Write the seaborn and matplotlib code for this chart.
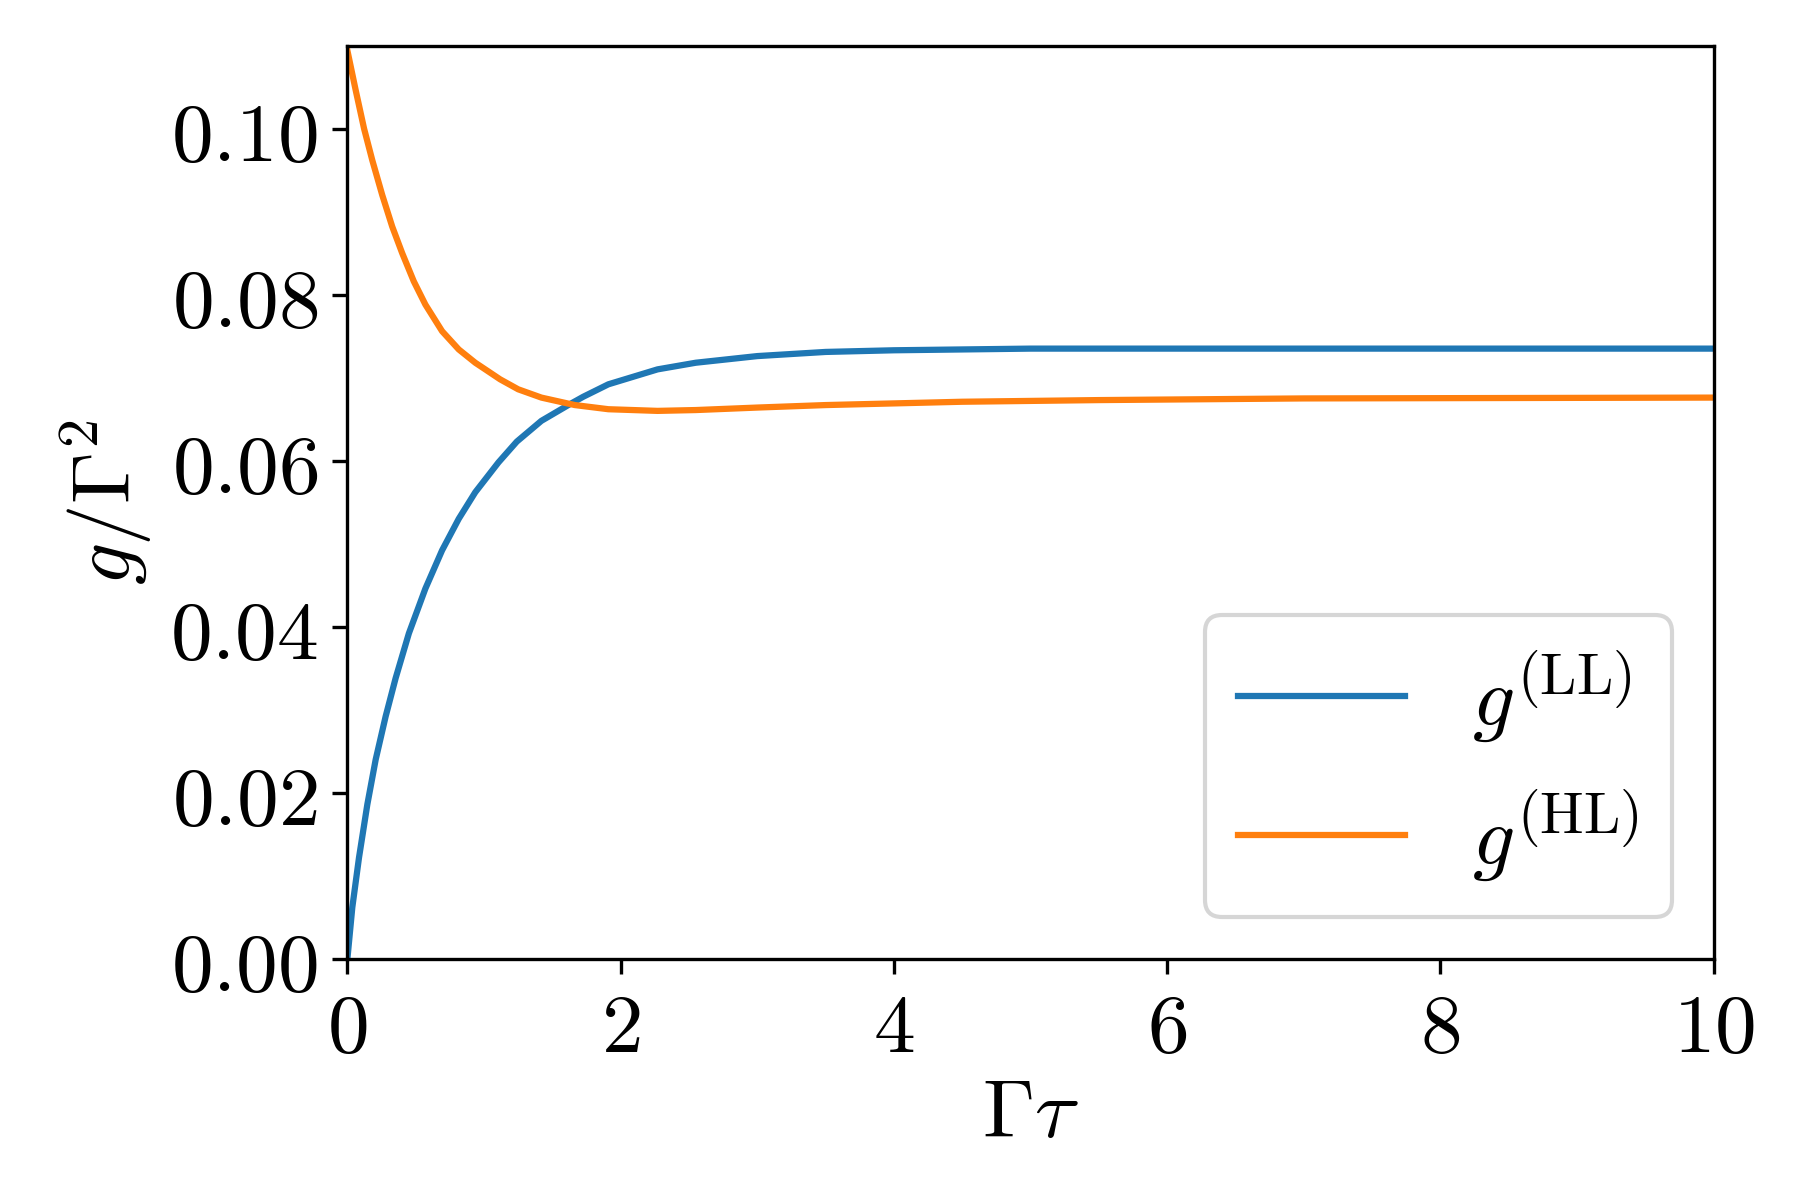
import matplotlib
matplotlib.use("Agg")
import matplotlib.pyplot as plt
import seaborn as sns
import pandas as pd
from matplotlib.ticker import FuncFormatter, MultipleLocator

# data
series = [r'$g^{(\mathrm{LL})}$', r'$g^{(\mathrm{HL})}$']
colors = ['#1f77b4', '#ff7f0e']

t_ll = [0, 0.036, 0.085, 0.146, 0.207, 0.28, 0.353, 0.45, 0.571, 0.693,
        0.815, 0.936, 1.106, 1.24, 1.42, 1.617, 1.726, 1.91, 2.27, 2.55,
        3.0, 3.5, 4.0, 5.0, 6.0, 8.0, 10.0]
g_ll = [0.0, 0.0062, 0.0122, 0.0186, 0.0240, 0.0292, 0.0338, 0.0392, 0.0446, 0.0492,
        0.0530, 0.0562, 0.0598, 0.0623, 0.0648, 0.0667, 0.0677, 0.0692, 0.0710, 0.0718,
        0.0726, 0.0731, 0.0733, 0.0735, 0.0735, 0.0735, 0.0735]

t_hl = [0, 0.061, 0.122, 0.182, 0.255, 0.328, 0.401, 0.486, 0.571, 0.693,
        0.815, 0.936, 1.009, 1.118, 1.25, 1.42, 1.665, 1.91, 2.27, 2.55, 3.0,
        3.5, 4.5, 5.5, 7.0, 10.0]
g_hl = [0.1094, 0.1046, 0.1000, 0.0962, 0.0920, 0.0882, 0.0850, 0.0816, 0.0788, 0.0756,
        0.0734, 0.0718, 0.0710, 0.0698, 0.0686, 0.0676, 0.0667, 0.0662, 0.0660, 0.0661, 0.0664,
        0.0667, 0.0671, 0.0673, 0.0675, 0.0676]

df = pd.concat([
    pd.DataFrame({'t': t_ll, 'g': g_ll, 'curve': series[0]}),
    pd.DataFrame({'t': t_hl, 'g': g_hl, 'curve': series[1]}),
])

plt.rcParams['mathtext.fontset'] = 'cm'

fig, ax = plt.subplots(figsize=(6, 4), dpi=300)
fig.subplots_adjust(left=0.193, right=0.952, top=0.962, bottom=0.201)

sns.lineplot(data=df, x='t', y='g', hue='curve', hue_order=series,
             palette=colors, linewidth=1.5, sort=True, legend=False, ax=ax)

ax.set_xlim(0, 10)
ax.set_ylim(0, 0.11)
ax.xaxis.set_major_locator(MultipleLocator(2))
ax.yaxis.set_major_locator(MultipleLocator(0.02))
ax.xaxis.set_major_formatter(FuncFormatter(lambda v, _: f'${v:.0f}$'))
ax.yaxis.set_major_formatter(FuncFormatter(lambda v, _: f'${v:.2f}$'))
ax.tick_params(labelsize=20)

ax.set_xlabel(r'$\Gamma\tau$', fontsize=20, labelpad=1)
ax.set_ylabel(r'$g/\Gamma^2$', fontsize=20)

ax.legend(ax.lines[:2], series, loc='lower right', fontsize=20)

fig.savefig('out.png', dpi=300)
